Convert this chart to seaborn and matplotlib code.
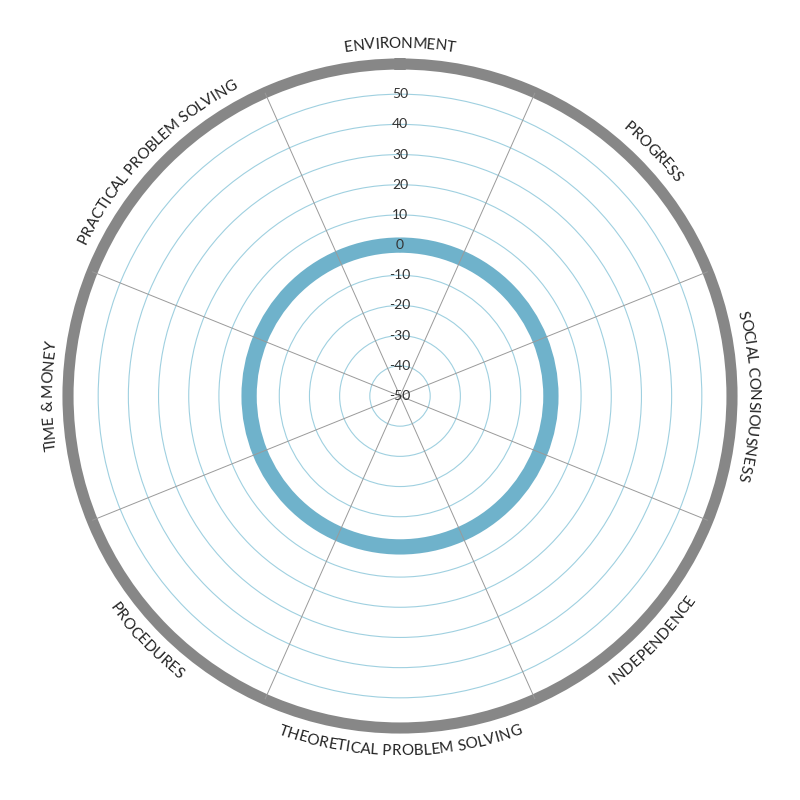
import numpy as np
import matplotlib
matplotlib.use("Agg")
import matplotlib.pyplot as plt
import seaborn as sns
from matplotlib.font_manager import FontProperties

# chart data
categories = ["ENVIRONMENT", "PROGRESS", "SOCIAL CONSIOUSNESS", "INDEPENDENCE",
              "THEORETICAL PROBLEM SOLVING", "PROCEDURES", "TIME & MONEY",
              "PRACTICAL PROBLEM SOLVING"]
scores = [0, 0, 0, 0, 0, 0, 0, 0]
ring_values = [-50, -40, -30, -20, -10, 0, 10, 20, 30, 40, 50]
r_min, r_max = -50, 60

# sector borders as drawn in the original (top/bottom sectors a bit wider)
spoke_deg = np.array([24, 68, 112, 156, 204, 248, 292, 336])

sns.set_theme(style="white")
plt.rcParams['font.family'] = ['Lato', 'DejaVu Sans']

fig = plt.figure(figsize=(8, 8), dpi=100)
ax = fig.add_axes([0.085, 0.09, 0.83, 0.83], projection="polar")
ax.set_theta_zero_location("N")
ax.set_theta_direction(-1)

# category angle = middle of its sector
prev = np.roll(spoke_deg, 1)
prev[0] -= 360
angles = np.radians((prev + spoke_deg) / 2)

# closed ring of scores
theta = np.append(angles, angles[0] + 2 * np.pi)
r = np.append(scores, scores[0])
sns.lineplot(x=theta, y=r, ax=ax, color="#6fb2cb", linewidth=11,
             sort=False, estimator=None)
line = ax.lines[-1]
line.get_path()._interpolation_steps = 60  # follow the arc between points
line.set_solid_capstyle("butt")

ax.set_ylim(r_min, r_max)
ax.set_xticks(np.radians(spoke_deg))
ax.set_xticklabels([])
ax.set_yticks(ring_values[1:])
ax.set_yticklabels([])
ax.xaxis.grid(True, color="#9a9a9a", linewidth=0.7)
ax.yaxis.grid(True, color="#9fd0e0", linewidth=0.8)
ax.xaxis.set_zorder(2.5)
ax.yaxis.set_zorder(0.5)
ax.spines["polar"].set_color("#878787")
ax.spines["polar"].set_linewidth(8)

for v in ring_values:
    ax.text(0, v, str(v), ha="center", va="center", fontsize=10,
            color="#333333", zorder=5)

# curved category labels
renderer = fig.canvas.get_renderer()
fp = FontProperties(family=['Lato', 'DejaVu Sans'], size=11)
R_px = 0.83 * 800 / 2
r_lab = 67.2
lab_px = R_px * (r_lab - r_min) / (r_max - r_min)
cap = 0.72 * 11 * 100 / 72 * (r_max - r_min) / R_px / 2


def width(s):
    return renderer.get_text_width_height_descent(s, fp, ismath=False)[0]


guard = width("|")
for lab, a in zip(categories, angles):
    total = width(lab + "|") - guard
    deg0 = np.degrees(a) % 360
    bottom = 100 < deg0 < 260
    for i, ch in enumerate(lab):
        if ch == " ":
            continue
        s0 = width(lab[:i] + "|") - guard
        s1 = width(lab[:i + 1] + "|") - guard
        off = ((s0 + s1) / 2 - total / 2) / lab_px
        if bottom:
            t = a - off
            rot = 180 - np.degrees(t)
            rr = r_lab + cap
        else:
            t = a + off
            rot = -np.degrees(t)
            rr = r_lab - cap
        ax.text(t, rr, ch, rotation=rot, rotation_mode="anchor",
                ha="center", va="baseline", fontproperties=fp,
                color="#222222")

fig.savefig("out.png", dpi=100, facecolor="white")
